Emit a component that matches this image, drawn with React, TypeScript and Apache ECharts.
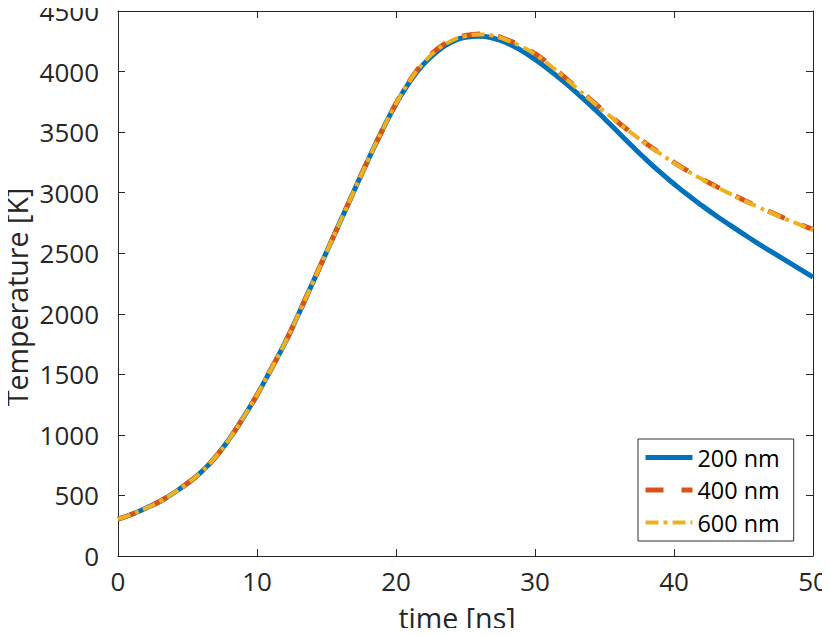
import React, { useEffect, useRef } from "react";
import * as echarts from "echarts";

const timeNs = [0,1,2,3,4,5,6,7,8,9,10,11,12,13,14,15,16,17,18,19,20,21,22,23,24,25,26,27,28,29,30,31,32,33,34,35,36,37,38,39,40,41,42,43,44,45,46,47,48,49,50];

const temp200 = [305,345,395,450,520,600,695,815,965,1140,1330,1540,1757,2000,2255,2510,2765,3020,3272,3512,3732,3918,4063,4170,4243,4283,4292,4275,4235,4175,4100,4015,3923,3825,3721,3611,3497,3383,3273,3169,3072,2980,2894,2812,2734,2658,2584,2513,2443,2373,2303];

const temp400 = [305,345,395,450,520,600,695,815,965,1140,1330,1540,1757,2000,2255,2510,2765,3020,3272,3512,3737,3928,4078,4188,4260,4298,4310,4298,4262,4212,4148,4062,3966,3866,3768,3672,3579,3490,3405,3325,3250,3180,3115,3054,2996,2940,2887,2836,2787,2741,2697];

const temp600 = [305,345,395,450,520,600,695,815,965,1140,1330,1540,1757,2000,2255,2510,2765,3020,3272,3512,3735,3925,4074,4184,4255,4293,4306,4295,4258,4208,4144,4058,3963,3863,3765,3669,3576,3487,3402,3322,3247,3177,3112,3051,2993,2937,2884,2833,2784,2738,2694];

const seriesNames = ["200 nm", "400 nm", "600 nm"];
const seriesColors = ["#0072BD", "#D95319", "#EDB120"];
const xTitle = "time [ns]";
const yTitle = "Temperature [K]";
const xTicks = { min: 0, max: 50, interval: 10 };
const yTicks = { min: 0, max: 4500, interval: 500 };

const FONT = "'Open Sans', 'Noto Sans', sans-serif";
const AXIS_COLOR = "#262626";

export default function App() {
  const ref = useRef<HTMLDivElement>(null);
  useEffect(() => {
    if (!ref.current) return;
    const chart = echarts.init(ref.current, undefined, { renderer: "svg" });
    const pair = (ys: number[]) => timeNs.map((t, i) => [t, ys[i]]);
    const axisCommon = {
      axisLine: { show: true, onZero: false, lineStyle: { color: AXIS_COLOR, width: 1 } },
      axisTick: { show: true, inside: true, length: 7, lineStyle: { color: AXIS_COLOR, width: 1 } },
      splitLine: { show: false },
    };
    const plain = (v: number) => String(v);
    const dash400 = [18, 18];
    const dash600 = [13, 5, 4, 5];
    chart.setOption({
      animation: false,
      backgroundColor: "#ffffff",
      grid: { left: 118, right: 17, top: 11, bottom: 80, containLabel: false, outerBoundsMode: "none" },
      xAxis: [
        {
          type: "value",
          ...xTicks,
          position: "bottom",
          ...axisCommon,
          axisLabel: { color: AXIS_COLOR, fontSize: 26, fontFamily: FONT, margin: 12, formatter: plain },
        },
        {
          type: "value",
          ...xTicks,
          position: "top",
          ...axisCommon,
          axisLabel: { show: false },
        },
      ],
      yAxis: [
        {
          type: "value",
          ...yTicks,
          position: "left",
          ...axisCommon,
          axisLabel: { color: AXIS_COLOR, fontSize: 26, fontFamily: FONT, margin: 19, lineHeight: 20, formatter: plain },
        },
        {
          type: "value",
          ...yTicks,
          position: "right",
          ...axisCommon,
          axisLabel: { show: false },
        },
      ],
      graphic: [
        {
          type: "text",
          x: 457,
          y: 617,
          style: {
            text: xTitle,
            fill: AXIS_COLOR,
            font: `28.6px ${FONT}`,
            lineHeight: 28,
            textAlign: "center",
            textVerticalAlign: "middle",
          },
        },
        {
          type: "text",
          x: 16,
          y: 297,
          rotation: Math.PI / 2,
          style: {
            text: yTitle,
            fill: AXIS_COLOR,
            font: `28.6px ${FONT}`,
            lineHeight: 28,
            textAlign: "center",
            textVerticalAlign: "middle",
          },
        },
      ],
      legend: {
        orient: "vertical",
        left: 638,
        top: 439,
        padding: [6.5, 14, 6.5, 5],
        itemGap: 8.5,
        itemWidth: 47,
        itemHeight: 14,
        borderColor: "#333333",
        borderWidth: 1,
        backgroundColor: "#ffffff",
        itemStyle: { color: "rgba(0,0,0,0)", opacity: 0, borderWidth: 0 },
        textStyle: { color: "#000000", fontSize: 23.4, fontFamily: FONT, lineHeight: 24 },
        data: [
          { name: seriesNames[0], lineStyle: { color: seriesColors[0], width: 5, type: "solid" } },
          { name: seriesNames[1], lineStyle: { color: seriesColors[1], width: 5, type: dash400 } },
          { name: seriesNames[2], lineStyle: { color: seriesColors[2], width: 4, type: dash600 } },
        ],
      },
      series: [
        {
          name: seriesNames[0],
          type: "line",
          data: pair(temp200),
          smooth: true,
          symbol: "none",
          lineStyle: { color: seriesColors[0], width: 5 },
          itemStyle: { color: seriesColors[0] },
        },
        {
          name: seriesNames[1],
          type: "line",
          data: pair(temp400),
          smooth: true,
          symbol: "none",
          lineStyle: { color: seriesColors[1], width: 5, type: dash400 },
          itemStyle: { color: seriesColors[1] },
        },
        {
          name: seriesNames[2],
          type: "line",
          data: pair(temp600),
          smooth: true,
          symbol: "none",
          lineStyle: { color: seriesColors[2], width: 4, type: dash600 },
          itemStyle: { color: seriesColors[2] },
        },
      ],
    });
    return () => chart.dispose();
  }, []);
  return <div ref={ref} style={{ width: 830, height: 636, margin: -8 }} />;
}
